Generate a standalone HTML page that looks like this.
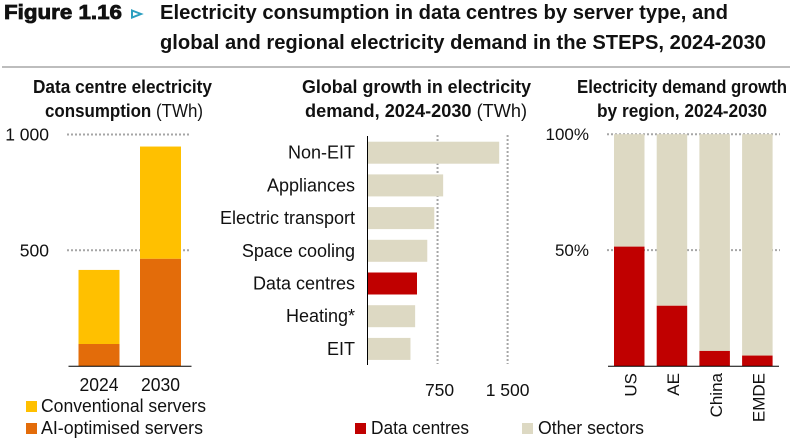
<!DOCTYPE html>
<html lang="en">
<head>
<meta charset="utf-8">
<title>Figure 1.16</title>
<style>
html,body{margin:0;padding:0;background:#fff;width:796px;height:444px;overflow:hidden}
svg{display:block}
text{font-family:"Liberation Sans",sans-serif;fill:#111}
.t{font-size:18px}
.b{font-weight:bold}
</style>
</head>
<body>
<svg id="c" width="796" height="444" viewBox="0 0 796 444" xmlns="http://www.w3.org/2000/svg">
  <text x="4" y="19" font-size="20" font-weight="bold" stroke="#111" stroke-width=".8" textLength="118" lengthAdjust="spacingAndGlyphs">Figure 1.16</text>
  <path d="M132 10.5 L141 14 L132 17.5 Z" fill="#fff" stroke="#2b9fc0" stroke-width="2"/>
  <text x="160" y="19" font-size="20" font-weight="bold" textLength="568" lengthAdjust="spacingAndGlyphs">Electricity consumption in data centres by server type, and</text>
  <text x="160" y="49" font-size="20" font-weight="bold" textLength="606" lengthAdjust="spacingAndGlyphs">global and regional electricity demand in the STEPS, 2024-2030</text>
  <rect x="2" y="66" width="788" height="2" fill="#bdbdbd"/>

  <text class="t b" x="33" y="93" textLength="179" lengthAdjust="spacingAndGlyphs">Data centre electricity</text>
  <text class="t" x="45" y="117" textLength="158" lengthAdjust="spacingAndGlyphs"><tspan font-weight="bold">consumption</tspan> (TWh)</text>
  <text class="t b" x="302" y="93" textLength="229" lengthAdjust="spacingAndGlyphs">Global growth in electricity</text>
  <text class="t" x="305" y="117" textLength="222" lengthAdjust="spacingAndGlyphs"><tspan font-weight="bold">demand, 2024-2030</tspan> (TWh)</text>
  <text class="t b" x="577" y="93" textLength="210" lengthAdjust="spacingAndGlyphs">Electricity demand growth</text>
  <text class="t b" x="597" y="117" textLength="170" lengthAdjust="spacingAndGlyphs">by region, 2024-2030</text>

  <rect x="26" y="401" width="11" height="11" fill="#ffc000"/>
  <text class="t" x="41" y="412" textLength="165" lengthAdjust="spacingAndGlyphs">Conventional servers</text>
  <rect x="26" y="423" width="11" height="11" fill="#e36c0a"/>
  <text class="t" x="41" y="434" textLength="162" lengthAdjust="spacingAndGlyphs">AI-optimised servers</text>
  <rect x="355" y="423" width="11" height="11" fill="#c00000"/>
  <text class="t" x="371" y="434" textLength="98" lengthAdjust="spacingAndGlyphs">Data centres</text>
  <rect x="522" y="423" width="11" height="11" fill="#ddd9c3"/>
  <text class="t" x="538" y="434" textLength="106" lengthAdjust="spacingAndGlyphs">Other sectors</text>
</svg>
<script>
// Left chart data (TWh)
const serverYears = ['2024', '2030'];
const aiServers = [95, 463];
const conventionalServers = [320, 485];
const serverTicks = [500, 1000];
const serverTickLabels = ['500', '1 000'];

// Middle chart data (TWh)
const sectors = ['Non-EIT', 'Appliances', 'Electric transport', 'Space cooling', 'Data centres', 'Heating*', 'EIT'];
const sectorGrowth = [1410, 810, 715, 640, 530, 510, 460];
const highlightedSector = 'Data centres';
const growthTicks = [750, 1500];
const growthTickLabels = ['750', '1 500'];

// Right chart data (% share)
const regions = ['US', 'AE', 'China', 'EMDE'];
const dataCentreShare = [51.5, 26, 6.5, 4.5];
const shareTicks = [50, 100];
const shareTickLabels = ['50%', '100%'];

const svg = document.getElementById('c');
const NS = 'http://www.w3.org/2000/svg';
function add(tag, attrs, txt) {
  const el = document.createElementNS(NS, tag);
  for (const k in attrs) el.setAttribute(k, attrs[k]);
  if (txt !== undefined) el.textContent = txt;
  svg.appendChild(el);
  return el;
}
function mark(el, name) {
  
  
  return el;
}
const dotted = { stroke: '#a6a6a6', 'stroke-width': 2, 'stroke-dasharray': '2 2' };

// Left chart
const yLeft = v => 366 - v * 0.2315;
const xLeft = i => 78.5 + i * 61.5;
serverTicks.forEach((t, i) => {
  const y = yLeft(t);
  mark(add('line', { x1: 67, x2: 190, y1: y, y2: y, ...dotted }), 'left-gridline');
  mark(add('text', { x: 49, y: y + 6, 'text-anchor': 'end', 'font-size': 17.5 }, serverTickLabels[i]), 'left-y-tick-label');
});
serverYears.forEach((yr, i) => {
  const total = aiServers[i] + conventionalServers[i];
  mark(add('rect', { x: xLeft(i), y: yLeft(total), width: 41, height: yLeft(aiServers[i]) - yLeft(total), fill: '#ffc000' }), 'bar-conventional-' + yr);
  mark(add('rect', { x: xLeft(i), y: yLeft(aiServers[i]), width: 41, height: 366 - yLeft(aiServers[i]), fill: '#e36c0a' }), 'bar-ai-' + yr);
  mark(add('text', { x: xLeft(i) + 20.5, y: 391, 'text-anchor': 'middle', 'font-size': 18, textLength: 39, lengthAdjust: 'spacingAndGlyphs' }, yr), 'left-x-tick-label');
});
mark(add('line', { x1: 68.5, x2: 191.5, y1: 366.3, y2: 366.3, stroke: '#000', 'stroke-width': 1 }), 'left-x-axis');

// Middle chart
const xMid = v => 367.5 + v * 0.0934;
const yMid = i => 152.7 + i * 32.7;
growthTicks.forEach((t, i) => {
  const x = xMid(t);
  mark(add('line', { x1: x, x2: x, y1: 135, y2: 364, ...dotted }), 'middle-gridline');
  mark(add('text', { x: x + (i ? 0 : 2), y: 396, 'text-anchor': 'middle', 'font-size': 17.5 }, growthTickLabels[i]), 'middle-x-tick-label');
});
sectors.forEach((s, i) => {
  mark(add('rect', { x: 368, y: yMid(i) - 11, width: xMid(sectorGrowth[i]) - 368, height: 22, fill: s === highlightedSector ? '#c00000' : '#ddd9c3' }), 'bar-sector-' + i);
  mark(add('text', { x: 355, y: yMid(i) + 6, 'text-anchor': 'end', 'font-size': 18 }, s), 'middle-category-label');
});
mark(add('line', { x1: 367.5, x2: 367.5, y1: 136, y2: 365, stroke: '#000', 'stroke-width': 1 }), 'middle-y-axis');

// Right chart
const yRight = v => 366 - v * 2.318;
const xRight = i => 614 + i * 42.7;
shareTicks.forEach((t, i) => {
  const y = yRight(t);
  mark(add('line', { x1: 607, x2: 780, y1: y, y2: y, ...dotted }), 'right-gridline');
  mark(add('text', { x: 589, y: y + 6, 'text-anchor': 'end', 'font-size': 17 }, shareTickLabels[i]), 'right-y-tick-label');
});
regions.forEach((r, i) => {
  mark(add('rect', { x: xRight(i), y: yRight(100), width: 30.5, height: yRight(dataCentreShare[i]) - yRight(100), fill: '#ddd9c3' }), 'bar-other-' + r);
  mark(add('rect', { x: xRight(i), y: yRight(dataCentreShare[i]), width: 30.5, height: 366 - yRight(dataCentreShare[i]), fill: '#c00000' }), 'bar-data-centres-' + r);
  const cx = xRight(i) + 22.5;
  mark(add('text', { x: cx, y: 373, 'text-anchor': 'end', 'font-size': 17, transform: 'rotate(-90 ' + cx + ' 373)' }, r), 'right-x-tick-label');
});
mark(add('line', { x1: 608, x2: 779, y1: 366.3, y2: 366.3, stroke: '#000', 'stroke-width': 1 }), 'right-x-axis');
</script>
</body>
</html>
